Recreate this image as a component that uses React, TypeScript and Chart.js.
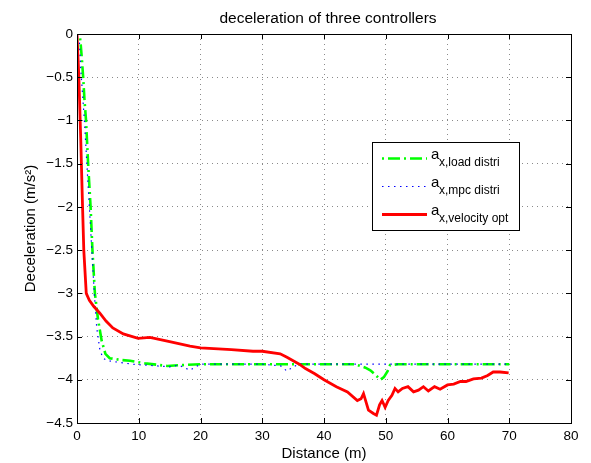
import { useEffect, useRef } from 'react';
import { Chart, registerables } from 'chart.js';

Chart.register(...registerables);

// Distance (m) and deceleration (m/s^2) for each controller
const distLoad = [0.5, 0.6, 0.8, 1.0, 1.2, 1.46, 1.8, 2.2, 2.5, 2.9, 3.4, 4.0, 4.6, 5.3, 7, 8.6, 11, 14.6, 17, 20, 25, 30, 35, 40, 45, 45.9, 46.7, 47.5, 48.3, 49.1, 49.7, 50.3, 50.7, 52, 55, 60, 65, 70];
const accLoad = [-0.05, -0.12, -0.3, -0.5, -0.75, -1.0, -1.5, -2.0, -2.5, -3.0, -3.3, -3.55, -3.7, -3.75, -3.77, -3.78, -3.81, -3.84, -3.83, -3.82, -3.82, -3.82, -3.82, -3.82, -3.82, -3.84, -3.86, -3.89, -3.94, -4.0, -3.97, -3.9, -3.83, -3.82, -3.82, -3.82, -3.82, -3.82];

const distMpc = [0.4, 0.6, 0.9, 1.2, 1.6, 2.0, 2.4, 2.8, 3.2, 3.7, 4.2, 5, 7, 9, 11, 13, 15, 16.5, 18.3, 20, 25, 30, 33, 34, 35, 36, 40, 45, 50, 55, 60, 65, 70];
const accMpc = [-0.1, -0.4, -0.7, -1.0, -1.5, -2.0, -2.5, -3.0, -3.4, -3.65, -3.75, -3.78, -3.8, -3.82, -3.83, -3.84, -3.85, -3.83, -3.89, -3.82, -3.82, -3.82, -3.84, -3.9, -3.85, -3.82, -3.82, -3.82, -3.82, -3.82, -3.82, -3.82, -3.82];

const distVel = [0, 0.3, 0.6, 0.9, 1.1, 1.5, 2.0, 2.7, 3.7, 4.7, 5.8, 7.5, 9.9, 11.8, 15, 18.3, 20, 25, 28.5, 30, 32.9, 34, 35, 36, 37, 38.5, 40, 42, 43.8, 45.4, 46, 46.4, 47.2, 48.0, 48.5, 49, 49.4, 49.9, 50.4, 51, 51.5, 52, 52.7, 53.6, 54.5, 55.3, 56.1, 56.9, 57.9, 58.8, 60, 61, 62.1, 63, 64.2, 65.5, 66.5, 67.4, 68.5, 69.9];
const accVel = [0, -0.5, -1.2, -2.0, -2.5, -3.0, -3.08, -3.15, -3.23, -3.32, -3.4, -3.47, -3.52, -3.51, -3.56, -3.61, -3.63, -3.65, -3.67, -3.67, -3.7, -3.74, -3.78, -3.82, -3.87, -3.93, -4.0, -4.08, -4.14, -4.24, -4.22, -4.16, -4.35, -4.39, -4.41, -4.29, -4.24, -4.32, -4.24, -4.18, -4.1, -4.14, -4.1, -4.08, -4.14, -4.12, -4.08, -4.13, -4.08, -4.11, -4.06, -4.05, -4.02, -4.02, -3.99, -3.98, -3.95, -3.91, -3.91, -3.92];

const seriesNames = ['load distri', 'mpc distri', 'velocity opt'];
const chartTitle = 'deceleration of three controllers';
const xTitle = 'Distance (m)';
const yTitle = 'Deceleration (m/s²)';

const FONT = '"Liberation Sans", Arial, Helvetica, sans-serif';

const toPoints = (xs: number[], ys: number[]) => xs.map((x, i) => ({ x, y: ys[i] }));

const framePlugin = {
  id: 'frame',
  afterDraw(chart: any) {
    const { ctx, chartArea: a, scales } = chart;
    ctx.save();
    // axes box
    ctx.strokeStyle = '#000';
    ctx.lineWidth = 1;
    ctx.strokeRect(Math.round(a.left) + 0.5, Math.round(a.top) + 0.5, Math.round(a.right - a.left), Math.round(a.bottom - a.top));
    // inward tick marks on all four sides
    const tl = 5;
    ctx.beginPath();
    scales.x.ticks.forEach((t: any) => {
      const px = Math.round(scales.x.getPixelForValue(t.value)) + 0.5;
      ctx.moveTo(px, a.bottom); ctx.lineTo(px, a.bottom - tl);
      ctx.moveTo(px, a.top); ctx.lineTo(px, a.top + tl);
    });
    scales.y.ticks.forEach((t: any) => {
      const py = Math.round(scales.y.getPixelForValue(t.value)) + 0.5;
      ctx.moveTo(a.left, py); ctx.lineTo(a.left + tl, py);
      ctx.moveTo(a.right, py); ctx.lineTo(a.right - tl, py);
    });
    ctx.stroke();

    // title
    ctx.fillStyle = '#000';
    ctx.font = `15.5px ${FONT}`;
    ctx.textAlign = 'center';
    ctx.textBaseline = 'alphabetic';
    ctx.fillText(chartTitle, (a.left + a.right) / 2 + 4, 23);

    // legend
    const lx = 372, ly = 142, lw = 147, lh = 88;
    ctx.fillStyle = '#fff';
    ctx.fillRect(lx, ly, lw, lh);
    ctx.strokeStyle = '#000';
    ctx.strokeRect(lx + 0.5, ly + 0.5, lw, lh);
    const rows = [158, 186, 214];
    chart.data.datasets
      .slice()
      .sort((p: any, q: any) => p.legendIndex - q.legendIndex)
      .forEach((ds: any, i: number) => {
        const y = rows[i];
        ctx.save();
        ctx.strokeStyle = ds.borderColor;
        ctx.lineWidth = ds.borderWidth;
        ctx.setLineDash(ds.borderDash || []);
        ctx.beginPath();
        ctx.moveTo(382, y + 0.5);
        ctx.lineTo(427, y + 0.5);
        ctx.stroke();
        ctx.restore();
        ctx.fillStyle = '#000';
        ctx.textAlign = 'left';
        ctx.textBaseline = 'alphabetic';
        ctx.font = `15px ${FONT}`;
        ctx.fillText('a', 431, y + 1);
        ctx.font = `12px ${FONT}`;
        ctx.fillText('x,' + seriesNames[ds.legendIndex], 439, y + 8);
      });
    ctx.restore();
  },
};

export default function App() {
  const canvasRef = useRef<HTMLCanvasElement | null>(null);

  useEffect(() => {
    document.body.style.margin = '0';
    const canvas = canvasRef.current;
    if (!canvas) return;
    const chart = new Chart(canvas, {
      type: 'line',
      data: {
        datasets: [
          {
            label: seriesNames[2],
            legendIndex: 2,
            data: toPoints(distVel, accVel),
            borderColor: '#ff0000',
            borderWidth: 2.8,
            pointRadius: 0,
            tension: 0,
            fill: false,
          } as any,
          {
            label: seriesNames[1],
            legendIndex: 1,
            data: toPoints(distMpc, accMpc),
            borderColor: '#0000ff',
            borderWidth: 1.2,
            borderDash: [1.5, 4.5],
            pointRadius: 0,
            tension: 0,
            fill: false,
          } as any,
          {
            label: seriesNames[0],
            legendIndex: 0,
            data: toPoints(distLoad, accLoad),
            borderColor: '#00ff00',
            borderWidth: 2.6,
            borderDash: [2, 4, 12, 4],
            pointRadius: 0,
            tension: 0,
            fill: false,
          } as any,
        ],
      },
      options: {
        animation: false,
        responsive: false,
        layout: { padding: { top: 34, right: 20, left: 0, bottom: 0 } },
        plugins: {
          legend: { display: false },
          title: { display: false },
          tooltip: { enabled: false },
        },
        scales: {
          x: {
            type: 'linear',
            min: 0,
            max: 80,
            afterFit: (s: any) => { s.height = 40; },
            ticks: {
              stepSize: 10,
              padding: 5,
              color: '#000',
              font: { family: FONT, size: 13.5 },
              maxRotation: 0,
            },
            grid: { color: '#8a8a8a', lineWidth: 1, drawTicks: false },
            border: { display: false, dash: [1, 4] },
            title: {
              display: true,
              text: xTitle,
              color: '#000',
              font: { family: FONT, size: 15 },
              padding: { top: 1, bottom: 0 },
            },
          },
          y: {
            type: 'linear',
            min: -4.5,
            max: 0,
            afterFit: (s: any) => { s.width = 77; },
            ticks: {
              stepSize: 0.5,
              padding: 4,
              color: '#000',
              font: { family: FONT, size: 13.5 },
              callback: (v: any) => (Number(v) === 0 ? '0' : String(Number(v)).replace('-', '\u2212')),
            },
            grid: { color: '#8a8a8a', lineWidth: 1, drawTicks: false },
            border: { display: false, dash: [1, 4] },
            title: {
              display: true,
              text: yTitle,
              color: '#000',
              font: { family: FONT, size: 15 },
              padding: { top: 22, bottom: 0 },
            },
          },
        },
      },
      plugins: [framePlugin],
    } as any);
    return () => chart.destroy();
  }, []);

  return (
    <div style={{ width: 591, height: 463 }}>
      <canvas ref={canvasRef} width={591} height={463} />
    </div>
  );
}
